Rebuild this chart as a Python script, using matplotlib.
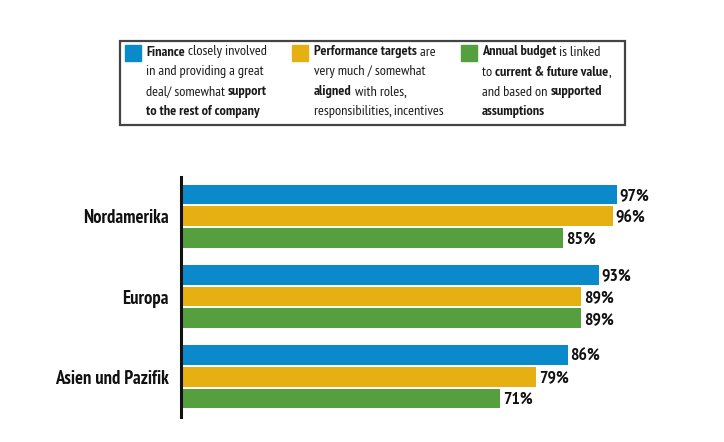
import matplotlib.pyplot as plt
import numpy as np
from matplotlib.patches import Rectangle

plt.rcParams['font.family'] = ['PT Sans Narrow', 'Roboto Condensed', 'DejaVu Sans']

regions = ["Nordamerika", "Europa", "Asien und Pazifik"]
finance = [97, 93, 86]
targets = [96, 89, 79]
budget = [85, 89, 71]

colors = ["#0a8acb", "#e6b013", "#559f3e"]

legend_lines = [
    [[("Finance", True), (" closely involved", False)],
     [("in and providing a great", False)],
     [("deal/ somewhat ", False), ("support", True)],
     [("to the rest of company", True)]],
    [[("Performance targets", True), (" are", False)],
     [("very much / somewhat", False)],
     [("aligned", True), (" with roles,", False)],
     [("responsibilities, incentives", False)]],
    [[("Annual budget", True), (" is linked", False)],
     [("to ", False), ("current & future value", True), (",", False)],
     [("and based on ", False), ("supported", True)],
     [("assumptions", True)]],
]

W, H = 724, 442
fig = plt.figure(figsize=(W / 100, H / 100), dpi=100)

# main axes: spine at x=181, 100% = ~449 px
ax = fig.add_axes([181 / W, (H - 417) / H, 449.5 / W, 240 / H])
y = np.arange(len(regions))
off = 0.27
h = 0.245
series = [finance, targets, budget]
for k, vals in enumerate(series):
    ax.barh(y + (k - 1) * off, vals, height=h, color=colors[k], edgecolor="none")
    for yy, v in zip(y + (k - 1) * off, vals):
        ax.text(v + 0.6, yy + 0.02, f"{v}%", va="center", ha="left",
                fontsize=12.8, fontweight="bold", color="#111111", clip_on=False)

ax.set_xlim(0, 100)
ax.set_ylim(2.5, -0.49)
ax.set_yticks(y)
ax.set_yticklabels(regions, fontsize=13.4, fontweight="bold", color="#111111")
ax.tick_params(axis="y", length=0, pad=9)
ax.set_xticks([])
for s in ["top", "right", "bottom"]:
    ax.spines[s].set_visible(False)
ax.spines["left"].set_linewidth(2.2)
ax.spines["left"].set_color("#111111")

# legend box, drawn in pixel coords
fig.patches.append(Rectangle((120, H - 125), 505, 84, transform=None,
                             fill=False, edgecolor="#444444", linewidth=1.6))
sq_x = [125, 292, 461]
txt_x = [146, 314, 482]
line_y = [52, 72, 92, 112]
renderer = fig.canvas.get_renderer()
for c in range(3):
    fig.patches.append(Rectangle((sq_x[c], H - 61), 16, 16, transform=None,
                                 color=colors[c]))
    for li, segs in enumerate(legend_lines[c]):
        x = txt_x[c]
        for s, bold in segs:
            t = fig.text(x / W, (H - line_y[li]) / H, s, fontsize=10.3,
                         fontweight="bold" if bold else "normal",
                         color="#1a1a1a", va="center", ha="left")
            x += t.get_window_extent(renderer).width

fig.savefig("out.png", dpi=100)
